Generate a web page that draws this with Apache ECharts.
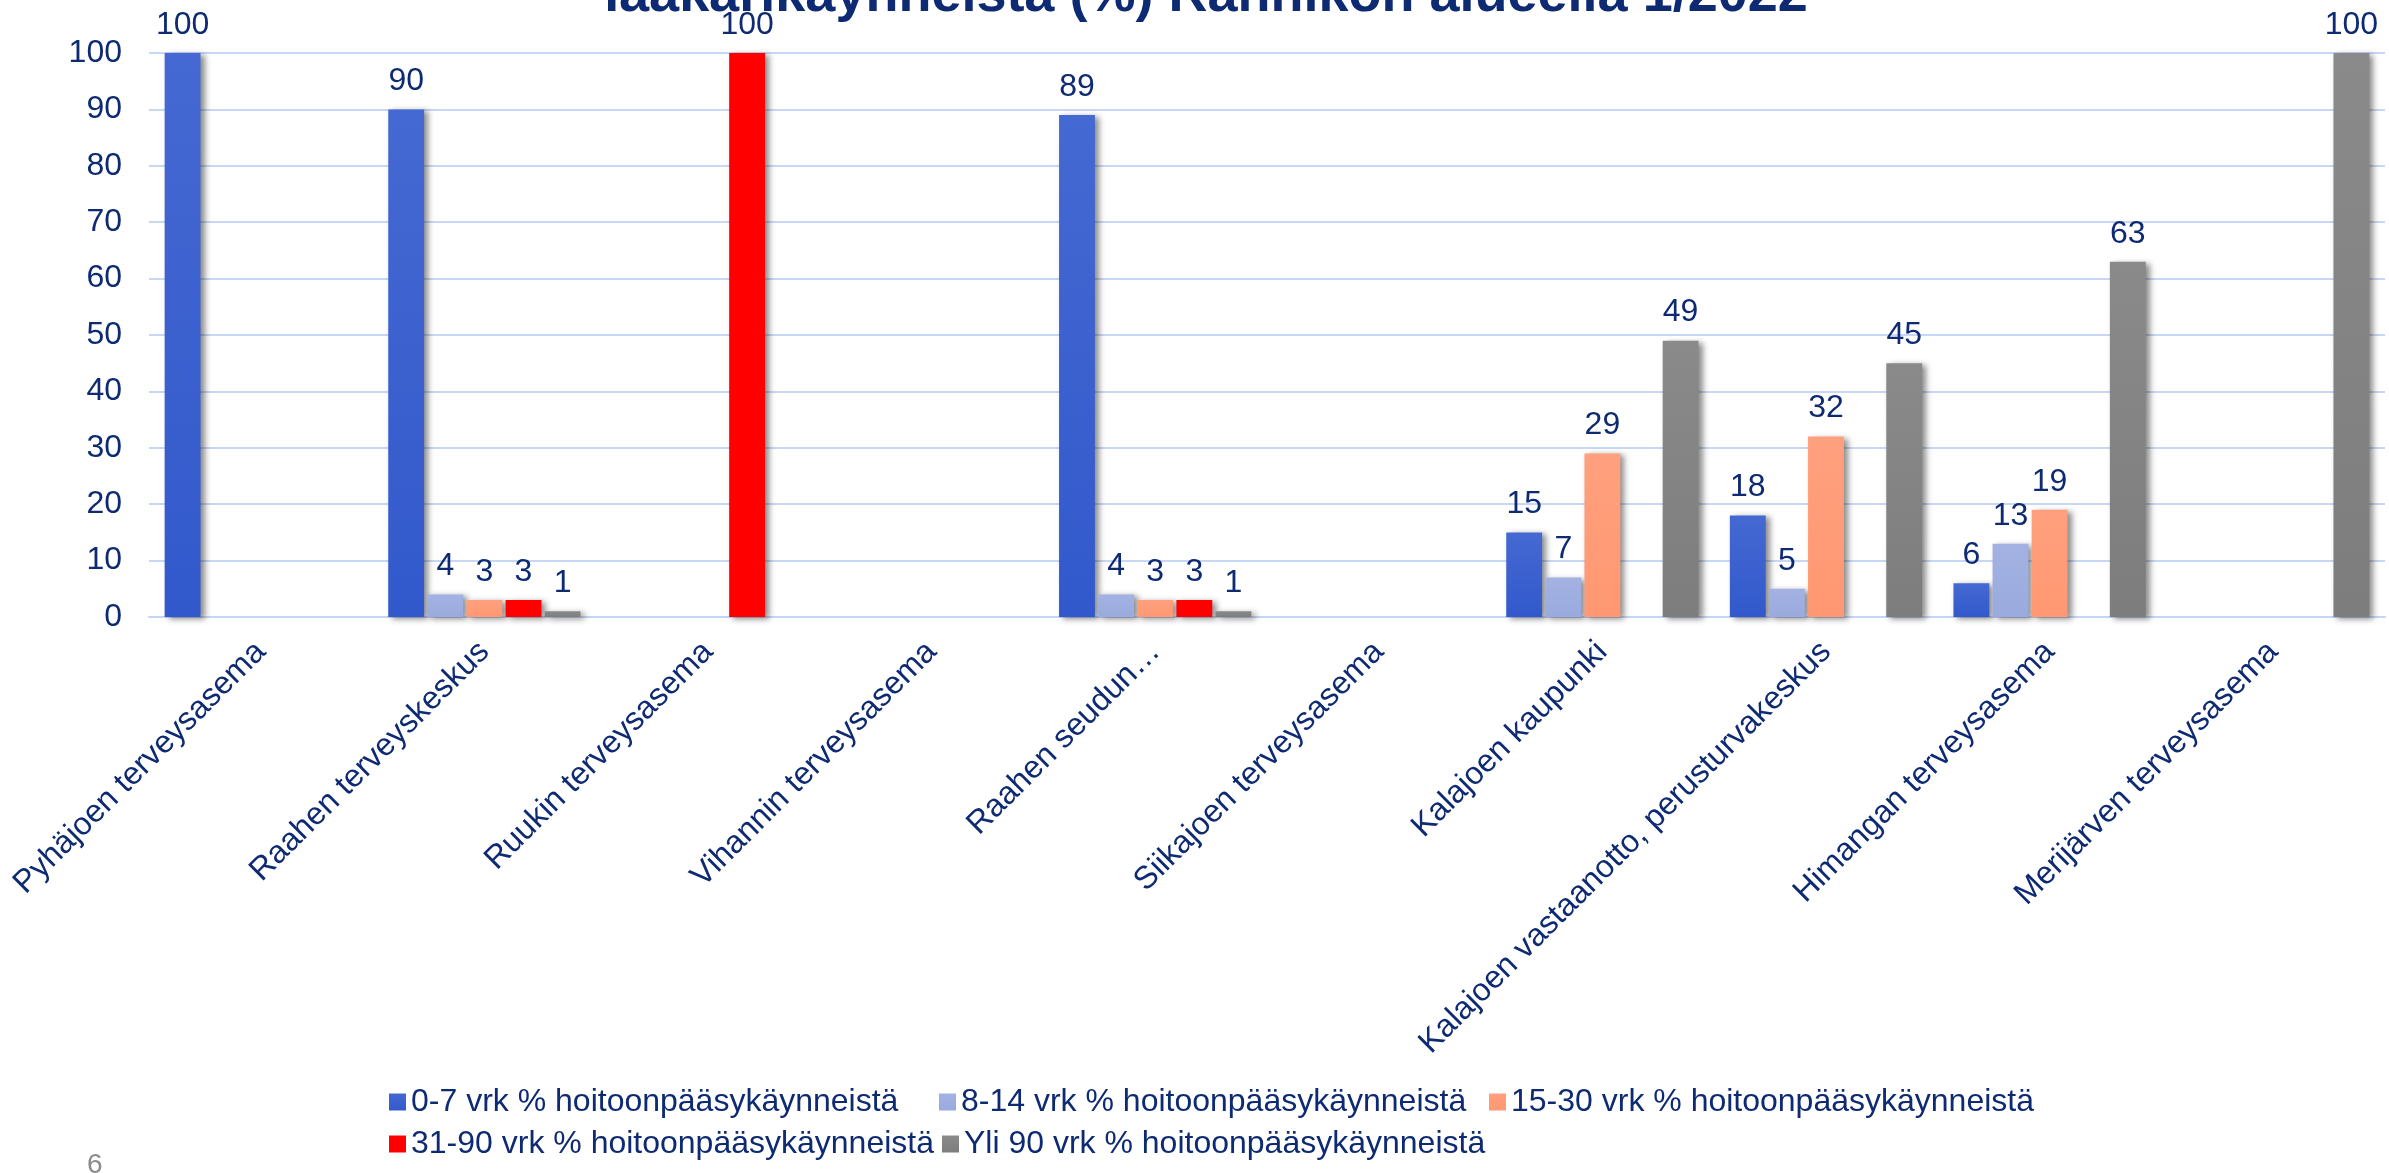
<!DOCTYPE html>
<html>
<head>
<meta charset="utf-8">
<script src="https://cdn.jsdelivr.net/npm/echarts@6/dist/echarts.min.js"></script>
<style>
  html, body { margin: 0; padding: 0; background: #fff; }
  #chart { width: 2389px; height: 1173px; }
</style>
</head>
<body>
<div id="chart"></div>
<script>
// categories (terveysasemat)
const categories = [
  "Pyhäjoen terveysasema",
  "Raahen terveyskeskus",
  "Ruukin terveysasema",
  "Vihannin terveysasema",
  "Raahen seudun…",
  "Siikajoen terveysasema",
  "Kalajoen kaupunki",
  "Kalajoen vastaanotto, perusturvakeskus",
  "Himangan terveysasema",
  "Merijärven terveysasema"
];

const seriesNames = [
  "0-7 vrk % hoitoonpääsykäynneistä",
  "8-14 vrk % hoitoonpääsykäynneistä",
  "15-30 vrk % hoitoonpääsykäynneistä",
  "31-90 vrk % hoitoonpääsykäynneistä",
  "Yli 90 vrk % hoitoonpääsykäynneistä"
];

// null = no bar
const d0_7   = [100, 90, null, null, 89, null, 15, 18, 6, null];
const d8_14  = [null, 4, null, null, 4, null, 7, 5, 13, null];
const d15_30 = [null, 3, null, null, 3, null, 29, 32, 19, null];
const d31_90 = [null, 3, 100, null, 3, null, null, null, null, null];
const dYli90 = [null, 1, null, null, 1, null, 49, 45, 63, 100];

const yTicks = [0, 10, 20, 30, 40, 50, 60, 70, 80, 90, 100];

const navy = "#0d2a72";
const font = "'Liberation Sans', Arial, sans-serif";

function grad(top, bottom) {
  return {
    type: "linear", x: 0, y: 0, x2: 0, y2: 1,
    colorStops: [{ offset: 0, color: top }, { offset: 1, color: bottom }]
  };
}

const colors = [
  grad("#4569d2", "#3259cc"),
  grad("#a3b2e2", "#9aaade"),
  grad("#ffa07e", "#ff9872"),
  grad("#ff0000", "#ff0000"),
  grad("#8a8a8a", "#7d7d7d")
];
const legendColors = ["#3a5fcd", "#9eaee0", "#ff9c78", "#ff0000", "#808080"];
const values = [d0_7, d8_14, d15_30, d31_90, dYli90];

const chart = echarts.init(document.getElementById("chart"));

const series = values.map((vals, i) => ({
  name: seriesNames[i],
  type: "bar",
  data: vals,
  barGap: "9%",
  barCategoryGap: "14%",
  color: legendColors[i],
  itemStyle: {
    color: colors[i],
    shadowColor: "rgba(0,0,0,0.45)",
    shadowBlur: 6,
    shadowOffsetX: 4,
    shadowOffsetY: 2
  },
  label: {
    show: true,
    position: "top",
    distance: 12,
    color: navy,
    fontSize: 32,
    fontFamily: font
  }
}));

chart.setOption({
  animation: false,
  backgroundColor: "#ffffff",
  title: {
    text: "lääkärikäynneistä (%) Rannikon alueella 1/2022",
    left: 1201,
    textAlign: "center",
    top: -36,
    textStyle: { color: navy, fontSize: 54, fontWeight: "bold", fontFamily: font }
  },
  graphic: [{
    type: "text",
    left: 87,
    top: 1151,
    style: { text: "6", fill: "#8c8c8c", fontSize: 28, fontFamily: font }
  }],
  legend: {
    left: 384,
    top: 1080,
    width: 1700,
    icon: "rect",
    itemWidth: 17,
    itemHeight: 17,
    itemGap: 8,
    data: seriesNames,
    textStyle: { color: navy, fontSize: 32, fontFamily: font, width: 520, lineHeight: 34 }
  },
  grid: { left: 149, right: 4, top: 53, bottom: 556 },
  xAxis: {
    type: "category",
    data: categories,
    axisTick: { show: false },
    axisLine: { lineStyle: { color: "#c5d5f5", width: 2 } },
    axisLabel: {
      interval: 0,
      rotate: 45,
      margin: 30,
      color: navy,
      fontSize: 32,
      fontFamily: font
    }
  },
  yAxis: {
    type: "value",
    min: yTicks[0],
    max: yTicks[yTicks.length - 1],
    interval: 10,
    axisLine: { show: false },
    axisTick: { show: false },
    splitLine: { lineStyle: { color: "#c8d7f5", width: 2 } },
    axisLabel: { color: navy, fontSize: 32, margin: 27, fontFamily: font }
  },
  series: series
});
</script>
</body>
</html>
